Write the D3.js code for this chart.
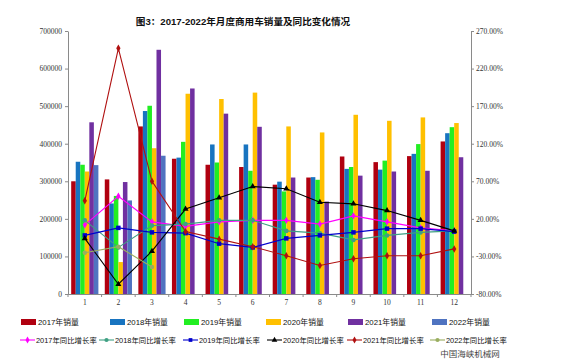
<!DOCTYPE html>
<html><head><meta charset="utf-8">
<script src="https://cdn.jsdelivr.net/npm/d3@7"></script>
<style>
html,body{margin:0;padding:0;background:#fff;}
svg{display:block;}
</style></head>
<body>
<svg id="chart" width="567" height="359"></svg>
<script>
const months = ["1","2","3","4","5","6","7","8","9","10","11","12"];
const years = ["2017","2018","2019","2020","2021","2022"];
const sales2017 = [300000,305000,446000,360000,344000,338000,291000,310000,366000,351000,367000,406000];
const sales2018 = [352000,241000,487000,363000,398000,398000,299000,311000,333000,331000,373000,428000];
const sales2019 = [344000,261000,501000,405000,350000,328000,273000,304000,338000,355000,399000,444000];
const sales2020 = [326000,85000,388000,533000,519000,536000,446000,430000,477000,461000,470000,455000];
const sales2021 = [457000,298000,650000,547000,480000,445000,310000,246000,315000,326000,328000,364000];
const sales2022 = [343000,249000,368000];
const growth2017 = [12,50,16,10,16,18,18,13,24,16,8,4];
const growth2018 = [18,-18,11,13,18,18,4,1,-8,-2,2,4];
const growth2019 = [-2,8,2,1,-13,-18,-6,-2,2,7,7,3];
const growth2020 = [-6,-67,-23,33,48,63,60,42,40,31,18,4];
const growth2021 = [44,247,70,3,-7,-17,-29,-42,-33,-29,-29,-20];
const growth2022 = [-25,-17,-44];
const leftTicks = [0,100000,200000,300000,400000,500000,600000,700000];
const rightTicks = [-80,-30,20,70,120,170,220,270];
const title = "图3：2017-2022年月度商用车销量及同比变化情况";

const barColors = ["#B00010","#1874C0","#22EE22","#FFC000","#7030A0","#4F73C0"];
const lineColors = ["#FF00FF","#3FA083","#0000CC","#000000","#B01010","#9AAE60"];
const symbols = [d3.symbolDiamond,d3.symbolCircle,d3.symbolSquare,d3.symbolTriangle,d3.symbolDiamond,d3.symbolCircle];

const salesSeries = [sales2017,sales2018,sales2019,sales2020,sales2021,sales2022];
const growthSeries = [growth2017,growth2018,growth2019,growth2020,growth2021,growth2022];

const svg = d3.select("#chart");
const L = 68, R = 471, T = 31, B = 294;
const x = d3.scaleBand().domain(months).range([L,R]).paddingInner(0.19).paddingOuter(0.095);
const xs = d3.scaleBand().domain(years).range([0,x.bandwidth()]);
const yL = d3.scaleLinear().domain([0,700000]).range([B,T]);
const yR = d3.scaleLinear().domain([-80,270]).range([B,T]);
const axisFont = "'Liberation Serif','DejaVu Serif',serif";
const cjkFont = "'Liberation Sans','Noto Sans CJK SC',sans-serif";

svg.append("text").attr("x",243).attr("y",25).attr("text-anchor","middle")
  .attr("font-family",cjkFont).attr("font-weight","bold").attr("font-size",9.6).attr("fill","#111").text(title);

// bars
salesSeries.forEach((arr,si)=>{
  svg.append("g").selectAll("rect").data(arr).enter().append("rect")
    .attr("x",(d,i)=>x(months[i])+xs(years[si]))
    .attr("width",xs.bandwidth())
    .attr("y",d=>yL(d))
    .attr("height",d=>B-yL(d))
    .attr("fill",barColors[si]);
});

// axes
function styleAxis(g){
  g.selectAll("path,line").attr("stroke","#8a8a8a");
  g.selectAll("text").attr("font-family",axisFont).attr("font-size",7.5).attr("fill","#333");
}
const ga = svg.append("g").attr("transform",`translate(${L},0)`)
  .call(d3.axisLeft(yL).tickValues(leftTicks).tickFormat(d3.format("d")).tickSize(3).tickSizeOuter(0).tickPadding(3));
styleAxis(ga);
const gr = svg.append("g").attr("transform",`translate(${R},0)`)
  .call(d3.axisRight(yR).tickValues(rightTicks).tickFormat(d=>d.toFixed(2)+"%").tickSize(3).tickSizeOuter(0).tickPadding(2));
styleAxis(gr);
const gx = svg.append("g").attr("transform",`translate(0,${B})`)
  .call(d3.axisBottom(x).tickSize(0).tickPadding(6));
styleAxis(gx);
gx.select("path").attr("d",`M${L},0.5H${R}`);
// tick marks at band boundaries
const step = x.step();
svg.append("g").selectAll("line").data(d3.range(13)).enter().append("line")
  .attr("x1",d=>L+d*step).attr("x2",d=>L+d*step).attr("y1",B).attr("y2",B+3)
  .attr("stroke","#8a8a8a");

// lines
const cx = i=>x(months[i])+x.bandwidth()/2;
growthSeries.forEach((arr,si)=>{
  const line = d3.line().x((d,i)=>cx(i)).y(d=>yR(d));
  svg.append("path").datum(arr).attr("d",line).attr("fill","none")
    .attr("stroke",lineColors[si]).attr("stroke-width",1.1);
  svg.append("g").selectAll("path").data(arr).enter().append("path")
    .attr("transform",(d,i)=>`translate(${cx(i)},${yR(d)})`)
    .attr("d",d3.symbol().type(symbols[si]).size(si===2?20:16))
    .attr("fill",lineColors[si]);
});

// legend
const legX1 = [21,110,184,266,348,432];
const legX2 = [20,99,183,267,347,430];
const leg = svg.append("g").attr("font-family",cjkFont).attr("font-size",7.8).attr("fill","#111");
years.forEach((yr,i)=>{
  leg.append("rect").attr("x",legX1[i]).attr("y",319).attr("width",15).attr("height",6).attr("fill",barColors[i]);
  leg.append("text").attr("x",legX1[i]+17).attr("y",325).text(yr+"年销量");
  leg.append("line").attr("x1",legX2[i]).attr("x2",legX2[i]+15).attr("y1",340).attr("y2",340)
    .attr("stroke",lineColors[i]).attr("stroke-width",1.1);
  leg.append("path").attr("transform",`translate(${legX2[i]+7.5},340)`)
    .attr("d",d3.symbol().type(symbols[i]).size(14)).attr("fill",lineColors[i]);
  leg.append("text").attr("x",legX2[i]+16).attr("y",343).attr("font-size",7.4).text(yr+"年同比增长率");
});
svg.append("text").attr("x",470).attr("y",356.5).attr("text-anchor","middle")
  .attr("font-family","'Noto Sans CJK SC',sans-serif").attr("font-size",8.5).attr("fill","#444").text("中国海峡机械网");
</script>
</body></html>
